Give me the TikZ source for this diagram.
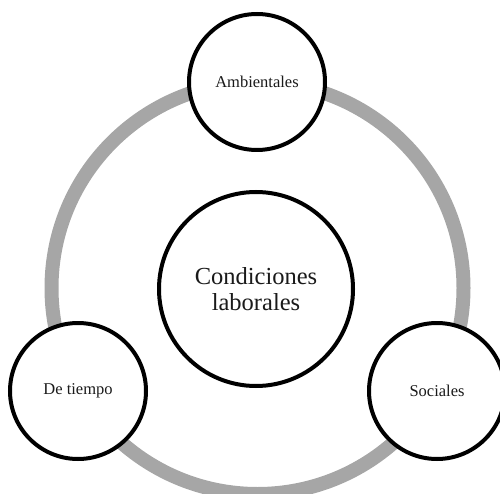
\documentclass[tikz,border=0pt]{standalone}
\usepackage{fontspec}
\setmainfont{Liberation Serif}
\definecolor{ringgray}{HTML}{A6A6A6}
\definecolor{txt}{HTML}{1A1A1A}
\begin{document}
\begin{tikzpicture}[x=1pt,y=-1pt,
  sat/.style={circle, draw=black, line width=4pt, fill=white, minimum size=136pt, inner sep=0pt, text=txt, font=\fontsize{16.5}{18}\selectfont},
  hub/.style={circle, draw=black, line width=4pt, fill=white, minimum size=194pt, inner sep=0pt, align=center, text=txt, font=\fontsize{24.5}{25.5}\selectfont},
  ringline/.style={draw=ringgray, line width=14pt}]
\useasboundingbox (0,0) rectangle (500,494);
\clip (0,0) rectangle (500,494);
\coordinate (c) at (257.5,288);
\draw[ringline] (c) circle (206);
\node[hub] (hub) at (256,289) {Condiciones\\laborales};
\node[sat] (amb) at (257,82) {Ambientales};
\node[sat] (tie) at (78,391) {De tiempo};
\node[sat] (soc) at (437,391) {Sociales};
\end{tikzpicture}
\end{document}
